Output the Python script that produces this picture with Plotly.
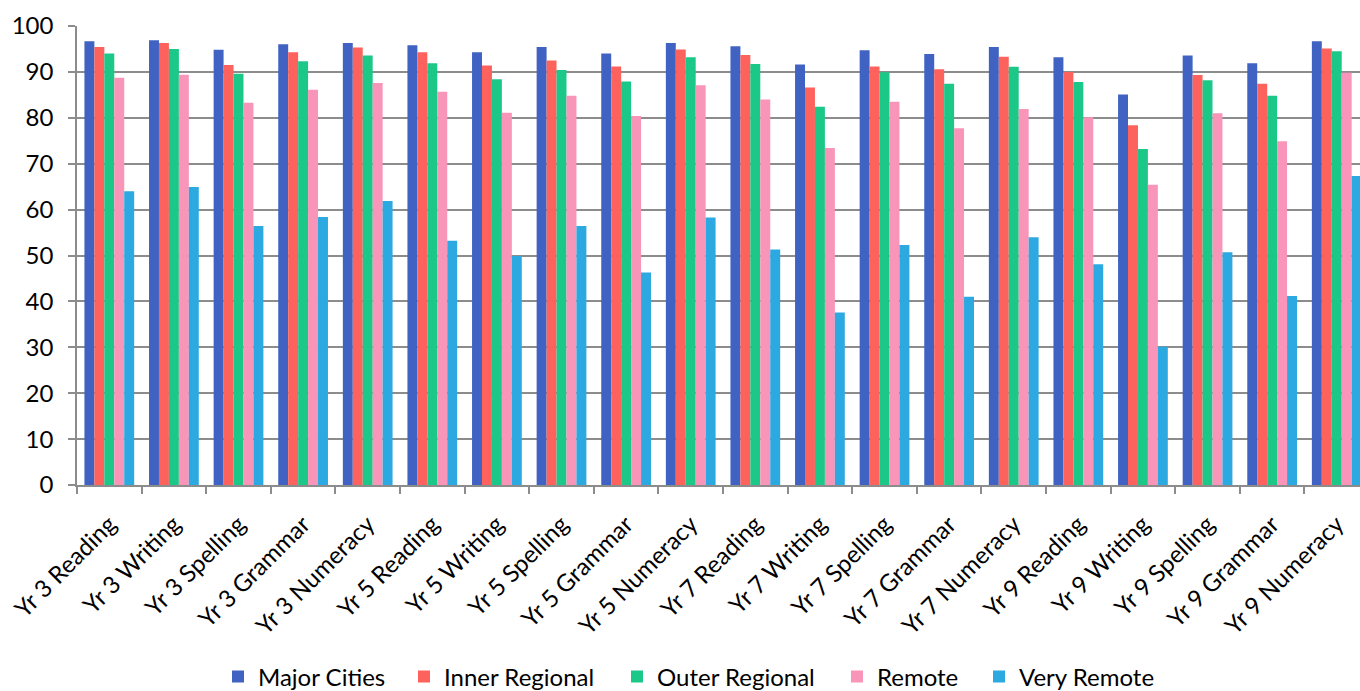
import plotly.graph_objects as go

categories = [
    "Yr 3 Reading", "Yr 3 Writing", "Yr 3 Spelling", "Yr 3 Grammar", "Yr 3 Numeracy",
    "Yr 5 Reading", "Yr 5 Writing", "Yr 5 Spelling", "Yr 5 Grammar", "Yr 5 Numeracy",
    "Yr 7 Reading", "Yr 7 Writing", "Yr 7 Spelling", "Yr 7 Grammar", "Yr 7 Numeracy",
    "Yr 9 Reading", "Yr 9 Writing", "Yr 9 Spelling", "Yr 9 Grammar", "Yr 9 Numeracy",
]

major_cities = [96.7, 96.9, 94.8, 96.0, 96.3, 95.8, 94.3, 95.4, 94.0, 96.3,
                95.6, 91.6, 94.7, 93.9, 95.4, 93.2, 85.1, 93.6, 91.9, 96.7]
inner_regional = [95.4, 96.3, 91.5, 94.3, 95.3, 94.3, 91.4, 92.5, 91.2, 94.9,
                  93.7, 86.6, 91.2, 90.6, 93.3, 90.0, 78.4, 89.3, 87.4, 95.1]
outer_regional = [94.0, 95.0, 89.6, 92.3, 93.6, 91.9, 88.4, 90.4, 87.9, 93.2,
                  91.7, 82.4, 89.9, 87.4, 91.1, 87.8, 73.2, 88.2, 84.8, 94.5]
remote = [88.7, 89.4, 83.3, 86.1, 87.6, 85.7, 81.1, 84.8, 80.4, 87.1,
          84.0, 73.4, 83.5, 77.7, 81.9, 80.1, 65.4, 81.0, 74.9, 89.8]
very_remote = [64.0, 64.9, 56.4, 58.4, 61.9, 53.2, 49.9, 56.4, 46.3, 58.3,
               51.3, 37.6, 52.3, 41.0, 54.0, 48.1, 30.1, 50.7, 41.2, 67.3]

series = [
    ("Major Cities", major_cities, "#4063C3"),
    ("Inner Regional", inner_regional, "#FE625C"),
    ("Outer Regional", outer_regional, "#1CC888"),
    ("Remote", remote, "#F895B8"),
    ("Very Remote", very_remote, "#2DA9E1"),
]

# left edge (px) of each legend entry along the bottom row
legend_left_px = [218, 404, 617, 837, 979]

FONT = "Lato"
SIZE = 24
W, H = 1360, 691

fig = go.Figure()
legend_layouts = {}
for i, (name, values, color) in enumerate(series):
    key = "legend" if i == 0 else f"legend{i + 1}"
    fig.add_trace(go.Bar(
        x=categories, y=values, name=name,
        marker=dict(color=color, line=dict(width=0)),
        legend=key,
    ))
    legend_layouts[key] = dict(
        orientation="h",
        xref="container", yref="container",
        x=legend_left_px[i] / W, xanchor="left",
        y=1 - 677 / H, yanchor="middle",
        font=dict(family=FONT, size=SIZE, color="#000000"),
        bgcolor="rgba(0,0,0,0)",
    )

fig.update_layout(
    width=W, height=H,
    margin=dict(l=77, r=0, t=26, b=206),
    paper_bgcolor="white", plot_bgcolor="white",
    barmode="group", bargap=0.23, bargroupgap=0,
    font=dict(family=FONT, size=SIZE, color="#000000"),
    showlegend=True,
    **legend_layouts,
)

fig.update_xaxes(
    type="category",
    range=[-0.5, 19.36],
    tickson="boundaries",
    ticks="outside", ticklen=7, tickcolor="#8c8c8c", tickwidth=1.5,
    showline=True, linecolor="#8c8c8c", linewidth=1.5,
    showgrid=False,
    tickangle=-45,
    ticklabelstandoff=14,
    tickfont=dict(family=FONT, size=SIZE, color="#000000"),
)

fig.update_yaxes(
    range=[0, 100],
    tickmode="linear", tick0=0, dtick=10,
    ticks="outside", ticklen=7, tickcolor="#8c8c8c", tickwidth=1.5,
    showline=True, linecolor="#8c8c8c", linewidth=1.5,
    showgrid=True, gridcolor="#8c8c8c", gridwidth=1.5,
    zeroline=False,
    ticklabelstandoff=10,
    tickfont=dict(family=FONT, size=SIZE, color="#000000"),
)

fig.write_html("out.html")
